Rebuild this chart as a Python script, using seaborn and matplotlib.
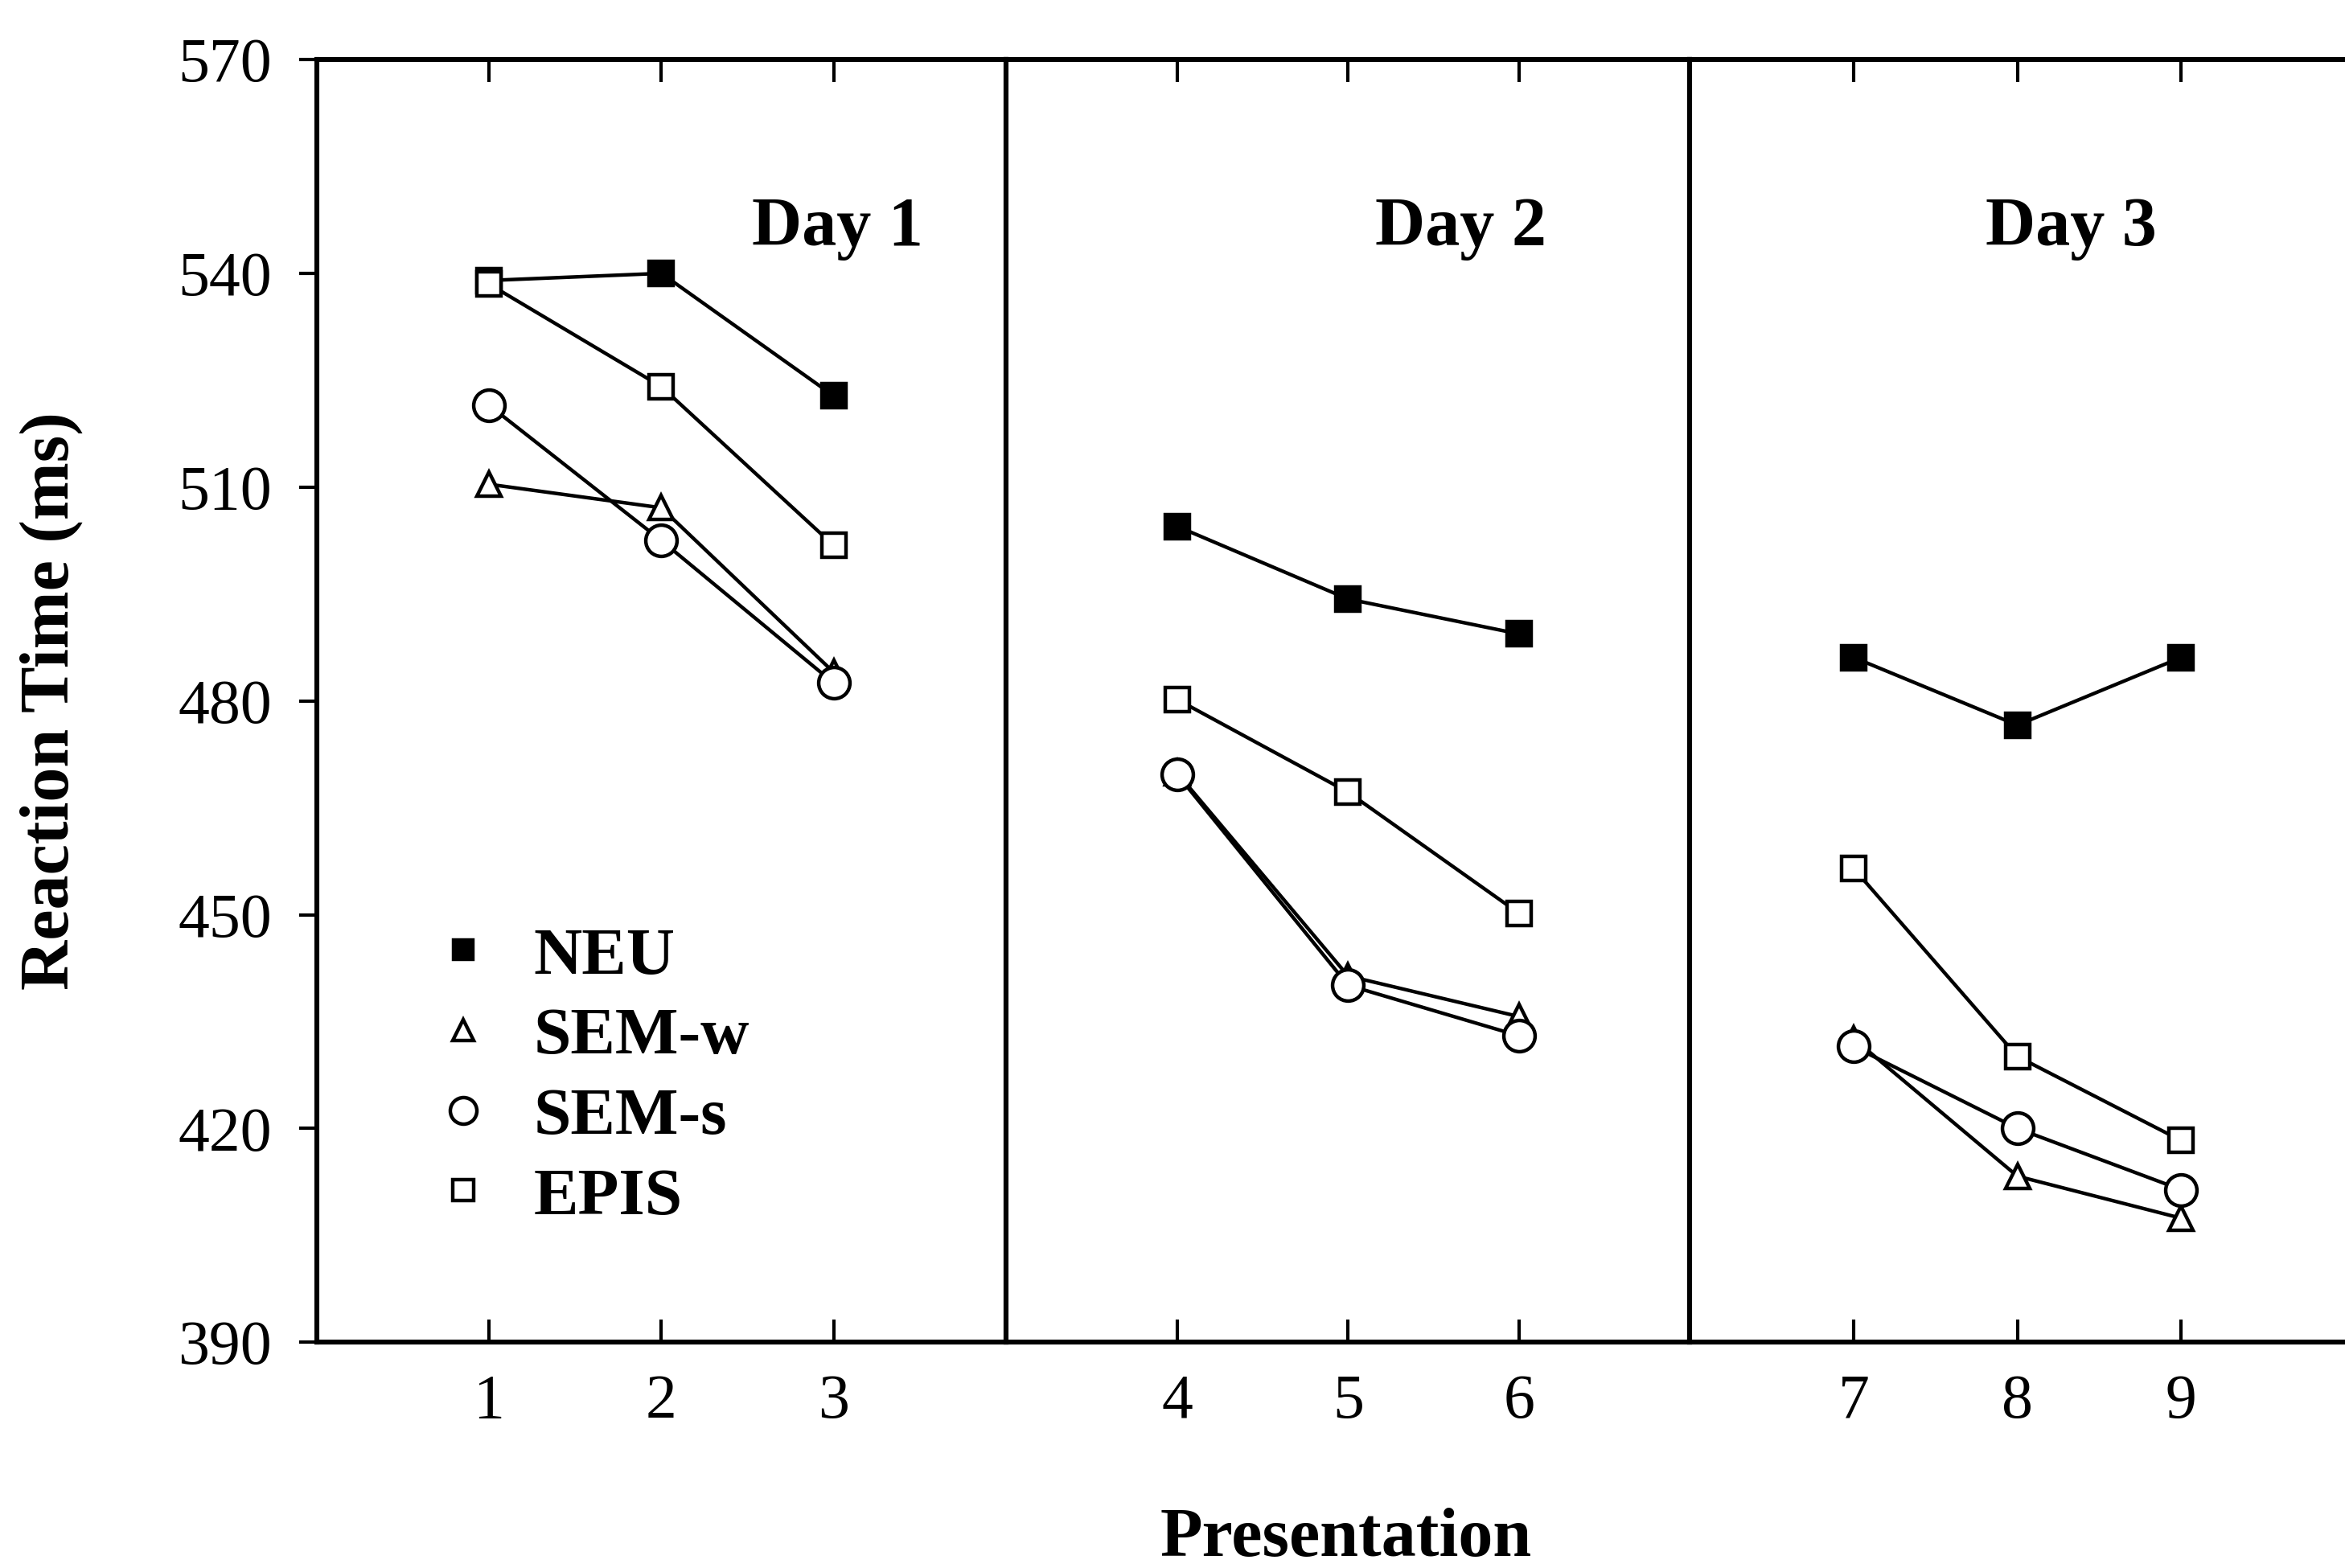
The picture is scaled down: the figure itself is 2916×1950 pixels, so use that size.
import matplotlib
matplotlib.use("Agg")
import matplotlib.pyplot as plt
from matplotlib.lines import Line2D
import seaborn as sns
import pandas as pd

# ---- data ----
presentation = [1, 2, 3, 4, 5, 6, 7, 8, 9]
day = [1, 1, 1, 2, 2, 2, 3, 3, 3]
day_labels = ["Day 1", "Day 2", "Day 3"]
conditions = ["NEU", "SEM-w", "SEM-s", "EPIS"]
neu = [539.0, 540.0, 522.8, 504.5, 494.3, 489.4, 486.1, 476.6, 486.1]
sem_w = [510.4, 507.1, 484.0, 469.9, 441.4, 435.7, 432.6, 413.3, 407.4]
sem_s = [521.5, 502.5, 482.5, 469.7, 440.1, 433.0, 431.5, 420.0, 411.4]
epis = [538.5, 524.1, 501.8, 480.2, 467.2, 450.2, 456.5, 430.1, 418.3]
y_ticks = [390, 420, 450, 480, 510, 540, 570]

series = {"NEU": neu, "SEM-w": sem_w, "SEM-s": sem_s, "EPIS": epis}
rows = []
for cond in conditions:
    for p, d, v in zip(presentation, day, series[cond]):
        rows.append({"presentation": p, "day": d, "condition": cond, "rt": v})
df = pd.DataFrame(rows)

# ---- style ----
sns.set_theme(style="white")
plt.rcParams["font.family"] = ["Liberation Serif", "DejaVu Serif"]
plt.rcParams["font.weight"] = "bold"
plt.rcParams["text.color"] = "black"
plt.rcParams["xtick.color"] = "black"
plt.rcParams["ytick.color"] = "black"
plt.rcParams["axes.labelcolor"] = "black"

marker_style = {
    "NEU":   dict(marker="s", markersize=10.5, markerfacecolor="black"),
    "SEM-w": dict(marker="^", markersize=11, markerfacecolor="white"),
    "SEM-s": dict(marker="o", markersize=14, markerfacecolor="white"),
    "EPIS":  dict(marker="s", markersize=11, markerfacecolor="white"),
}

fig = plt.figure(figsize=(14.58, 9.75), dpi=200)
left, right, bottom, top = 0.135, 1.0, 0.144, 0.962
gs = fig.add_gridspec(1, 3, left=left, right=right, bottom=bottom, top=top,
                      wspace=0, width_ratios=[461, 457, 438])
axes = [fig.add_subplot(gs[0, i]) for i in range(3)]
for i in range(1, 3):
    axes[i].sharey(axes[0])

day_text_x = [0.755, 0.665, 0.582]

for k, ax in enumerate(axes):
    sub = df[df["day"] == k + 1]
    for cond in conditions:
        s = sub[sub["condition"] == cond]
        sns.lineplot(data=s, x="presentation", y="rt", ax=ax, color="black",
                     linewidth=1.6, markeredgecolor="black",
                     markeredgewidth=1.6, legend=False,
                     **marker_style[cond])
    ax.set_xlim(3 * k, 3 * k + 4)
    ticks = presentation[3 * k:3 * k + 3]
    ax.set_xticks(ticks)
    ax.set_xticklabels([str(t) for t in ticks], fontsize=28, fontweight="normal")
    ax.tick_params(axis="x", direction="in", top=True, bottom=True,
                   length=10, width=1.5, pad=14)
    ax.set_xlabel("")
    ax.set_ylabel("")
    for sp in ax.spines.values():
        sp.set_visible(True)
        sp.set_color("black")
        sp.set_linewidth(2.2)
    ax.text(day_text_x[k], 0.868, day_labels[k], transform=ax.transAxes,
            ha="center", va="center", fontsize=31, fontweight="bold")
    if k > 0:
        ax.tick_params(axis="y", left=False, labelleft=False)

axes[0].set_ylim(390, 570)
axes[0].set_yticks(y_ticks)
axes[0].set_yticklabels([str(t) for t in y_ticks], fontsize=28,
                        fontweight="normal")
axes[0].tick_params(axis="y", direction="out", left=True, length=8, width=1.5,
                    pad=12)
axes[2].spines["right"].set_visible(False)

# legend (markers only)
handles = []
for cond in conditions:
    st = marker_style[cond]
    handles.append(Line2D([], [], linestyle="none", color="black",
                          markeredgecolor="black", markeredgewidth=1.6,
                          marker=st["marker"],
                          markersize=st["markersize"] * 0.85,
                          markerfacecolor=st["markerfacecolor"]))
axes[0].legend(handles, conditions, loc="upper left",
               bbox_to_anchor=(0.125, 0.345), frameon=False,
               prop={"family": "Liberation Serif", "weight": "bold", "size": 30},
               handlelength=1.0, handletextpad=0.55, labelspacing=0.28,
               borderaxespad=0)

fig.text(0.022, (bottom + top) / 2, "Reaction Time (ms)", rotation=90,
         ha="center", va="center", fontsize=31, fontweight="bold")
fig.text(0.574, 0.018, "Presentation", ha="center", va="center",
         fontsize=31, fontweight="bold")

fig.savefig("out.png", dpi=200, facecolor="white")
